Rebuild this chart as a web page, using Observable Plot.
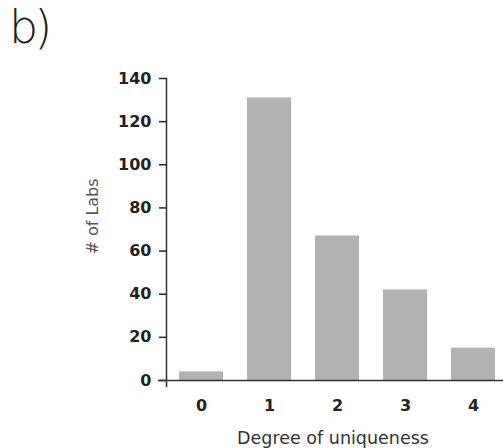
<!DOCTYPE html>
<html>
<head>
<meta charset="utf-8">
<script src="https://cdn.jsdelivr.net/npm/d3@7"></script>
<script src="https://cdn.jsdelivr.net/npm/@observablehq/plot@0.6"></script>
<style>
  html, body { margin: 0; padding: 0; background: #fff; }
  #panel {
    font-family: "DejaVu Sans", sans-serif;
    font-weight: 200;
    font-size: 46px;
    line-height: 54px;
    height: 56px;
    padding-left: 9px;
    letter-spacing: -4px;
    color: #1f1f1f;
  }
  svg { display: block; }
</style>
</head>
<body>
<div id="panel">b)</div>
<div id="chart"></div>
<script>
// Number of labs by degree of uniqueness
const degrees = [0, 1, 2, 3, 4];
const labCounts = [4, 131, 67, 42, 15];
const yTicks = [0, 20, 40, 60, 80, 100, 120, 140];
const xLabel = "Degree of uniqueness";
const yLabel = "# of Labs";

const rows = degrees.map((d, i) => ({degree: d, labs: labCounts[i]}));

const chart = Plot.plot({
  width: 503,
  height: 392,
  marginTop: 22,
  marginBottom: 68,
  marginLeft: 166,
  marginRight: 0,
  style: {fontFamily: "DejaVu Sans", fontSize: "16px", background: "#fff"},
  x: {type: "band", domain: degrees, range: [166.5, 507], paddingInner: 0.35, paddingOuter: 0.175},
  y: {domain: [0, 140]},
  marks: [
    Plot.barY(rows, {x: "degree", y: "labs", fill: "#b2b2b2"}),
    Plot.axisY({ticks: yTicks, tickSize: 7, tickPadding: 8, color: "#222", fontWeight: "bold", label: null, strokeWidth: 1.5}),
    Plot.axisX({tickSize: 0, tickPadding: 19, color: "#222", fontWeight: "bold", label: null}),
    Plot.frame({anchor: "left", insetBottom: -6, stroke: "#333", strokeWidth: 1.5}),
    Plot.ruleY([0], {insetLeft: -8, stroke: "#333", strokeWidth: 1.5}),
    Plot.text([xLabel], {frameAnchor: "bottom", textAnchor: "middle", lineAnchor: "top", dy: 51, dx: -2, fontSize: 17.5, fill: "#333"}),
    Plot.text([yLabel], {frameAnchor: "left", textAnchor: "middle", lineAnchor: "middle", rotate: -90, dx: -73.5, dy: -13, fontSize: 16, fill: "#555"})
  ]
});
document.getElementById("chart").appendChild(chart);
</script>
</body>
</html>
